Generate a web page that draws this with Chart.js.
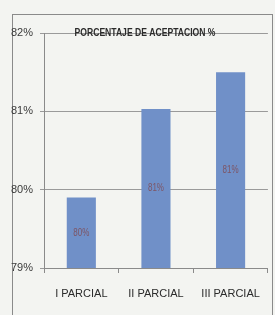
<!DOCTYPE html>
<html>
<head>
<meta charset="utf-8">
<script src="https://cdn.jsdelivr.net/npm/chart.js@4/dist/chart.umd.min.js"></script>
<style>
  html, body { margin: 0; padding: 0; background: #f3f4f1; }
  #wrap { width: 275px; height: 315px; position: relative; }
</style>
</head>
<body>
<div id="wrap"><canvas id="aceptacion" width="275" height="315"></canvas></div>
<script>
var categorias = ["I PARCIAL", "II PARCIAL", "III PARCIAL"]
var valores = [79.9, 81.03, 81.5]
var etiquetas = ["80%", "81%", "81%"]
var ticksY = [79, 80, 81, 82]
var titulo = "PORCENTAJE DE ACEPTACION %"

var fuente = "'Liberation Sans', Arial, sans-serif"

// marco exterior y titulo sobre la linea de 82%
var marco = {
    id: "marco",
    beforeDraw: (chart) => {
        var c = chart.ctx
        c.save()
        c.strokeStyle = "#8a8a8a"
        c.lineWidth = 1
        c.strokeRect(12.5, 14.5, 260, 320)
        c.restore()
    },
    afterDraw: (chart) => {
        var c = chart.ctx
        var area = chart.chartArea
        c.save()
        c.translate(145, area.top)
        c.scale(0.78, 1)
        c.font = "bold 11px " + fuente
        c.fillStyle = "#2b2b2b"
        c.textAlign = "center"
        c.textBaseline = "middle"
        c.fillText(titulo, 0, 0)
        c.restore()
    }
}

// etiquetas dentro de las barras
var etiquetasBarras = {
    id: "etiquetasBarras",
    afterDatasetsDraw: (chart) => {
        var c = chart.ctx
        var meta = chart.getDatasetMeta(0)
        var base = chart.scales.y.bottom
        c.save()
        c.font = "10px " + fuente
        c.fillStyle = "#7d5565"
        c.textAlign = "center"
        c.textBaseline = "middle"
        meta.data.forEach((bar, i) => {
            var p = bar.getProps(["x", "y"], true)
            c.save()
            c.translate(p.x, (p.y + base) / 2)
            c.scale(0.8, 1)
            c.fillText(etiquetas[i], 0, 0)
            c.restore()
        })
        c.restore()
    }
}

var ctx = document.getElementById("aceptacion")

var chartAceptacion = new Chart(ctx, {
    type: "bar",
    data: {
        labels: categorias,
        datasets: [{
            label: "Aceptacion",
            data: valores,
            backgroundColor: "#7090c8",
            borderWidth: 0,
            categoryPercentage: 1,
            barPercentage: 0.39
        }]
    },
    options: {
        responsive: false,
        animation: false,
        layout: { padding: { left: 10, top: 33, right: 7, bottom: 15 } },
        plugins: {
            legend: { display: false },
            tooltip: { enabled: false }
        },
        scales: {
            y: {
                min: 79,
                max: 82,
                afterFit: (s) => { s.width = 34 },
                afterBuildTicks: (s) => { s.ticks = ticksY.map(v => ({ value: v })) },
                ticks: {
                    callback: (v) => v + "%",
                    color: "#3a3a3a",
                    font: { family: fuente, size: 11 },
                    padding: 7
                },
                grid: { color: "#9a9a9a", tickLength: 4 },
                border: { display: true, color: "#8a8a8a" }
            },
            x: {
                afterFit: (s) => { s.height = 32 },
                ticks: {
                    color: "#2b2b2b",
                    font: { family: fuente, size: 11 },
                    padding: 14
                },
                grid: { drawOnChartArea: false, color: "#8a8a8a", tickLength: 5 },
                border: { display: true, color: "#8a8a8a" }
            }
        }
    },
    plugins: [marco, etiquetasBarras]
})
</script>
</body>
</html>
